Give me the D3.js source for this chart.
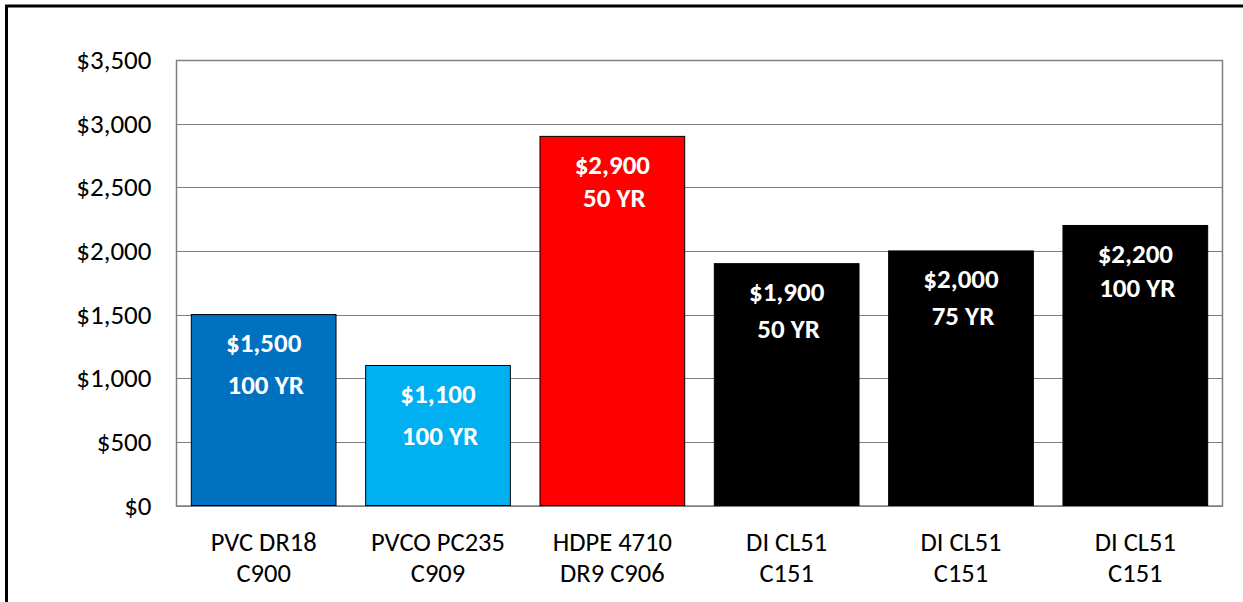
<!DOCTYPE html>
<html>
<head>
<meta charset="utf-8">
<script src="https://cdn.jsdelivr.net/npm/d3@7"></script>
<style>
  html, body { margin: 0; padding: 0; background: #fff; }
  svg { display: block; }
  text { font-family: Carlito, Lato, "Liberation Sans", sans-serif; }
</style>
</head>
<body>
<svg id="chart" width="1243" height="602"></svg>
<script>
// ---- data ----
const categories = [
  ["PVC DR18", "C900"],
  ["PVCO PC235", "C909"],
  ["HDPE 4710", "DR9 C906"],
  ["DI CL51", "C151"],
  ["DI CL51", "C151"],
  ["DI CL51", "C151"]
];
const costs = [1500, 1100, 2900, 1900, 2000, 2200];
const lifespans = ["100 YR", "100 YR", "50 YR", "50 YR", "75 YR", "100 YR"];
const barColors = ["#0070C0", "#00B0F0", "#FF0000", "#000000", "#000000", "#000000"];
const yTicks = [0, 500, 1000, 1500, 2000, 2500, 3000, 3500];
// layout: gap between the two label lines inside each bar (px)
const labelLineGap = [42, 42, 33, 37, 37, 34];

const svg = d3.select("#chart");
const W = 1243, H = 602;

// outer frame (left + top only visible)
svg.append("rect")
  .attr("x", 6.5).attr("y", 6)
  .attr("width", W + 20).attr("height", H + 20)
  .attr("fill", "none").attr("stroke", "#000").attr("stroke-width", 3);

const plot = { left: 176.5, top: 60, right: 1222.5, bottom: 505.5 };

const x = d3.scaleBand()
  .domain(d3.range(costs.length))
  .range([plot.left, plot.right])
  .paddingInner(0.17).paddingOuter(0.085);

const y = d3.scaleLinear().domain([0, 3500]).range([plot.bottom, plot.top]);

// gridlines
svg.append("g").selectAll("line").data(yTicks).join("line")
  .attr("x1", plot.left).attr("x2", plot.right)
  .attr("y1", d => Math.round(y(d)) + 0.5).attr("y2", d => Math.round(y(d)) + 0.5)
  .attr("stroke", "#7f7f7f").attr("stroke-width", 1);

// plot border
svg.append("rect")
  .attr("x", plot.left).attr("y", plot.top + 0.5)
  .attr("width", plot.right - plot.left).attr("height", plot.bottom - plot.top)
  .attr("fill", "none").attr("stroke", "#7f7f7f").attr("stroke-width", 1.5);

// y axis labels
const yAxis = d3.axisLeft(y).tickValues(yTicks).tickSize(0).tickPadding(25)
  .tickFormat(d => "$" + d3.format(",")(d));
const gy = svg.append("g").attr("transform", `translate(${plot.left},0)`).call(yAxis);
gy.select(".domain").remove();
gy.selectAll("text").attr("font-size", 27).attr("fill", "#000")
  .style("font-family", "Carlito, Lato, sans-serif");

// bars
svg.append("g").selectAll("rect").data(costs).join("rect")
  .attr("x", (d, i) => x(i)).attr("width", x.bandwidth())
  .attr("y", d => y(d)).attr("height", d => y(0) - y(d))
  .attr("fill", (d, i) => barColors[i])
  .attr("stroke", "#000").attr("stroke-width", 1);

// value labels
const lbl = svg.append("g").selectAll("g").data(costs).join("g");
lbl.append("text")
  .attr("x", (d, i) => x(i) + x.bandwidth() / 2)
  .attr("y", d => y(d) + 28)
  .attr("dy", "0.35em")
  .attr("text-anchor", "middle")
  .attr("font-size", 27).attr("font-weight", "bold").attr("fill", "#fff")
  .text(d => "$" + d3.format(",")(d));
lbl.append("text")
  .attr("x", (d, i) => x(i) + x.bandwidth() / 2 + 2)
  .attr("y", (d, i) => y(d) + 28 + labelLineGap[i])
  .attr("dy", "0.35em")
  .attr("text-anchor", "middle")
  .attr("font-size", 27).attr("font-weight", "bold").attr("fill", "#fff")
  .text((d, i) => lifespans[i]);

// category labels
const cat = svg.append("g").selectAll("text").data(categories).join("text")
  .attr("x", (d, i) => x(i) + x.bandwidth() / 2)
  .attr("y", 542)
  .attr("text-anchor", "middle")
  .attr("font-size", 26.5).attr("fill", "#000");
cat.selectAll("tspan").data(d => d).join("tspan")
  .attr("x", function () { return d3.select(this.parentNode).attr("x"); })
  .attr("dy", (d, j) => j === 0 ? "0.35em" : 31)
  .text(d => d);
</script>
</body>
</html>
